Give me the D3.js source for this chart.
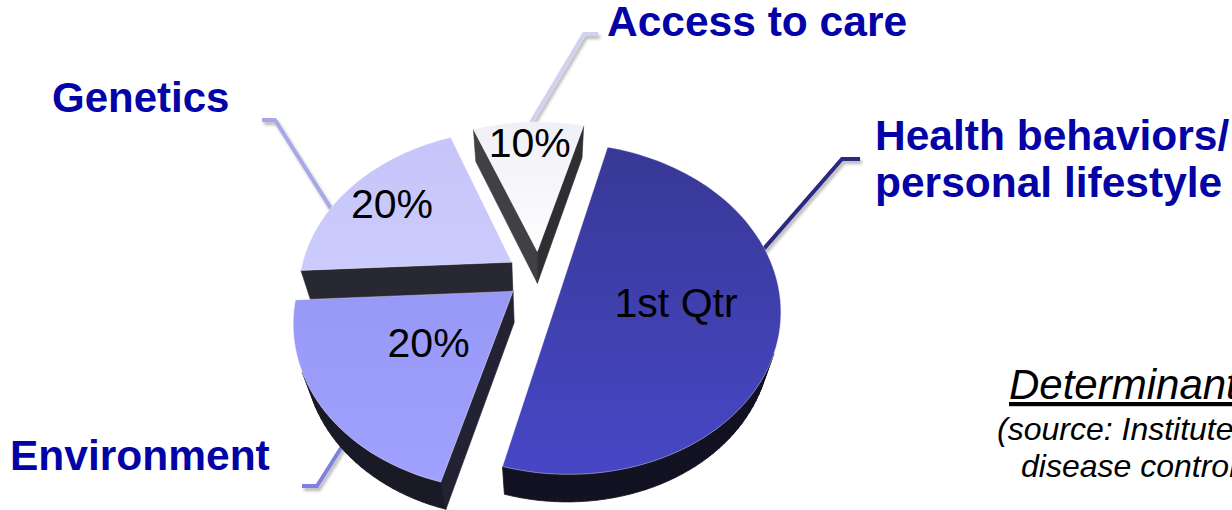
<!DOCTYPE html>
<html>
<head>
<meta charset="utf-8">
<script src="https://cdn.jsdelivr.net/npm/d3@7"></script>
<style>
  html, body { margin: 0; padding: 0; background: #ffffff; overflow: hidden; }
  svg { display: block; }
</style>
</head>
<body>
<svg id="chart" width="1232" height="510"></svg>
<script>
// ---- data ----
const categories = ["Health behaviors/ personal lifestyle", "Environment", "Genetics", "Access to care"];
const shares = [50, 20, 20, 10];
const sliceLabels = ["1st Qtr", "20%", "20%", "10%"];
const noteTitle = "Determinants of Health";
const noteLines = ["(source: Institute for the Future and", "disease control)"];

// ---- styling ----
const faceTop    = ["#383896", "#9898f6", "#c5c5f9", "#efeff6"];
const faceBottom = ["#4747c6", "#a0a0ff", "#cbcbfd", "#fefeff"];
const leaderColors = ["#2a2a84", "#8080de", "#a8a8e6", "#d0d0f0"];
const labelBlue = "#0303a6";
const wallDark = "#0d0d12";
const fontFamily = "'Liberation Sans', Arial, Helvetica, sans-serif";

// ---- 3-D view of the pie (plane units: radius = 1) ----
const cx = 539, cy = 275.5;
const focal = 825, camDist = 3.89, tilt = 48.6 * Math.PI / 180;
const thick = 0.235;
const explode = [0.12, 0.155, 0.155, 0.155];
const labelRadius = [0.53, 0.47, 0.74, 0.82];
const sinT = Math.sin(tilt), cosT = Math.cos(tilt);
const camPos = [0, camDist * sinT, -camDist * cosT];

// world (X right, Y up, Z away) -> screen
function project(X, Y, Z) {
  const yc = Z * sinT + Y * cosT;
  const zc = camDist + Z * cosT - Y * sinT;
  return [cx + focal * X / zc, cy - focal * yc / zc, zc];
}

const deg = Math.PI / 180;
const pie = d3.pie().sort(null).value(d => d)
  .startAngle(15 * deg).endAngle(375 * deg);
const arcs = pie(shares);

const slices = arcs.map((a, i) => {
  const mid = (a.startAngle + a.endAngle) / 2;
  const ox = explode[i] * Math.sin(mid), oz = explode[i] * Math.cos(mid);
  const world = (ang, r, Y) => [ox + r * Math.sin(ang), Y, oz + r * Math.cos(ang)];
  const pt = (ang, r, Y) => { const w = world(ang, r, Y); return project(w[0], w[1], w[2]); };
  const depth = pt(mid, 0.5, 0)[2];
  return { a, i, mid, world, pt, depth };
});

// ---- svg setup ----
const svg = d3.select("#chart");
const defs = svg.append("defs");
defs.append("filter").attr("id", "lineShadow")
  .attr("x", "-30%").attr("y", "-30%").attr("width", "160%").attr("height", "160%")
  .append("feDropShadow")
  .attr("dx", 2).attr("dy", 3).attr("stdDeviation", 1.6)
  .attr("flood-color", "#000").attr("flood-opacity", 0.28);

slices.forEach(sl => {
  const g = defs.append("linearGradient").attr("id", "face" + sl.i)
    .attr("x1", 0).attr("y1", 0).attr("x2", 0).attr("y2", 1);
  g.append("stop").attr("offset", "0%").attr("stop-color", faceTop[sl.i]);
  g.append("stop").attr("offset", "100%").attr("stop-color", faceBottom[sl.i]);
});

const line = d3.line();

// ---- leader lines (drawn beneath the pie) ----
const leaderLayer = svg.append("g");
const leaders = [
  { angle: 80,  elbow: [842, 159], end: [860, 159] },
  { angle: 221, elbow: [317, 486], end: [302, 486] },
  { angle: 290, elbow: [275, 120], end: [262, 120] },
  { angle: 357, elbow: [584, 34],  end: [598, 34] }
];
leaders.forEach((ld, i) => {
  const p = slices[i].pt(ld.angle * deg, 0.96, 0);
  leaderLayer.append("path")
    .attr("d", line([[p[0], p[1]], ld.elbow, ld.end]))
    .attr("fill", "none")
    .attr("stroke", leaderColors[i])
    .attr("stroke-width", 4)
    .attr("stroke-linejoin", "miter")
    .attr("filter", "url(#lineShadow)");
});

// ---- pie slices, far ones first ----
const pieLayer = svg.append("g");
function dot(a, b) { return a[0] * b[0] + a[1] * b[1] + a[2] * b[2]; }
function visible(normal, w) { return dot(normal, [camPos[0] - w[0], camPos[1] - w[1], camPos[2] - w[2]]) > 0; }

slices.slice().sort((p, q) => q.depth - p.depth).forEach(sl => {
  const { a, i, pt, world } = sl;
  const g = pieLayer.append("g");
  const a0 = a.startAngle, a1 = a.endAngle;
  const N = Math.max(10, Math.round((a1 - a0) / deg / 2));
  const angs = d3.range(N + 1).map(k => a0 + (a1 - a0) * k / N);
  const xy = p => [p[0], p[1]];

  // radial walls: left-facing ones catch a little more light
  const radial = [
    { ang: a0, normal: [-Math.cos(a0), 0, Math.sin(a0)] },
    { ang: a1, normal: [Math.cos(a1), 0, -Math.sin(a1)] }
  ];
  radial.forEach(rw => {
    if (!visible(rw.normal, world(rw.ang, 0, 0))) return;
    const poly = [pt(0, 0, 0), pt(rw.ang, 1, 0), pt(rw.ang, 1, -thick), pt(0, 0, -thick)].map(xy);
    const t = 0.86 - 0.08 * Math.max(0, -rw.normal[0]);
    const col = d3.interpolateRgb(faceBottom[i], wallDark)(t);
    g.append("path").attr("d", line(poly) + "Z")
      .attr("fill", col).attr("stroke", col).attr("stroke-width", 0.6);
  });

  // curved outer wall, one uniform dark band
  const outerCol = d3.interpolateRgb(faceBottom[i], wallDark)(0.91);
  let d = "";
  for (let k = 0; k < N; k++) {
    const m = (angs[k] + angs[k + 1]) / 2;
    const normal = [Math.sin(m), 0, Math.cos(m)];
    if (!visible(normal, world(m, 1, 0))) continue;
    const poly = [pt(angs[k], 1, 0), pt(angs[k + 1], 1, 0), pt(angs[k + 1], 1, -thick), pt(angs[k], 1, -thick)].map(xy);
    d += line(poly) + "Z";
  }
  if (d) g.append("path").attr("d", d)
    .attr("fill", outerCol).attr("stroke", outerCol).attr("stroke-width", 0.8);

  // top face
  const top = [pt(0, 0, 0)].concat(angs.map(t => pt(t, 1, 0))).map(xy);
  g.append("path").attr("d", line(top) + "Z")
    .attr("fill", "url(#face" + i + ")")
    .attr("stroke", "rgba(255,255,255,0.35)")
    .attr("stroke-width", 1);
});

// ---- value labels on the slices ----
const valueLayer = svg.append("g")
  .attr("font-family", fontFamily).attr("font-size", 41).attr("fill", "#000");
slices.forEach(sl => {
  const p = sl.pt(sl.mid, labelRadius[sl.i], 0);
  valueLayer.append("text")
    .attr("x", p[0]).attr("y", p[1] + 14)
    .attr("text-anchor", "middle")
    .text(sliceLabels[sl.i]);
});

// ---- category labels ----
const catLayer = svg.append("g")
  .attr("font-family", fontFamily).attr("font-weight", "bold")
  .attr("font-size", 42.5).attr("fill", labelBlue);
const healthWords = categories[0].split(" ");
const health = catLayer.append("text").attr("x", 875).attr("y", 150);
health.append("tspan").attr("x", 875).text(healthWords[0] + " " + healthWords[1]);
health.append("tspan").attr("x", 875).attr("dy", 47).text(healthWords.slice(2).join(" "));
catLayer.append("text").attr("x", 10).attr("y", 470).text(categories[1]);
catLayer.append("text").attr("x", 52).attr("y", 112).attr("font-size", 42).text(categories[2]);
catLayer.append("text").attr("x", 607).attr("y", 36).text(categories[3]);

// ---- source note ----
const note = svg.append("g").attr("font-family", fontFamily)
  .attr("font-style", "italic").attr("fill", "#000");
note.append("text").attr("x", 1009).attr("y", 399).attr("font-size", 42)
  .attr("text-decoration", "underline").text(noteTitle);
note.append("text").attr("x", 997).attr("y", 440).attr("font-size", 32).text(noteLines[0]);
note.append("text").attr("x", 1021).attr("y", 477).attr("font-size", 32).text(noteLines[1]);
</script>
</body>
</html>
